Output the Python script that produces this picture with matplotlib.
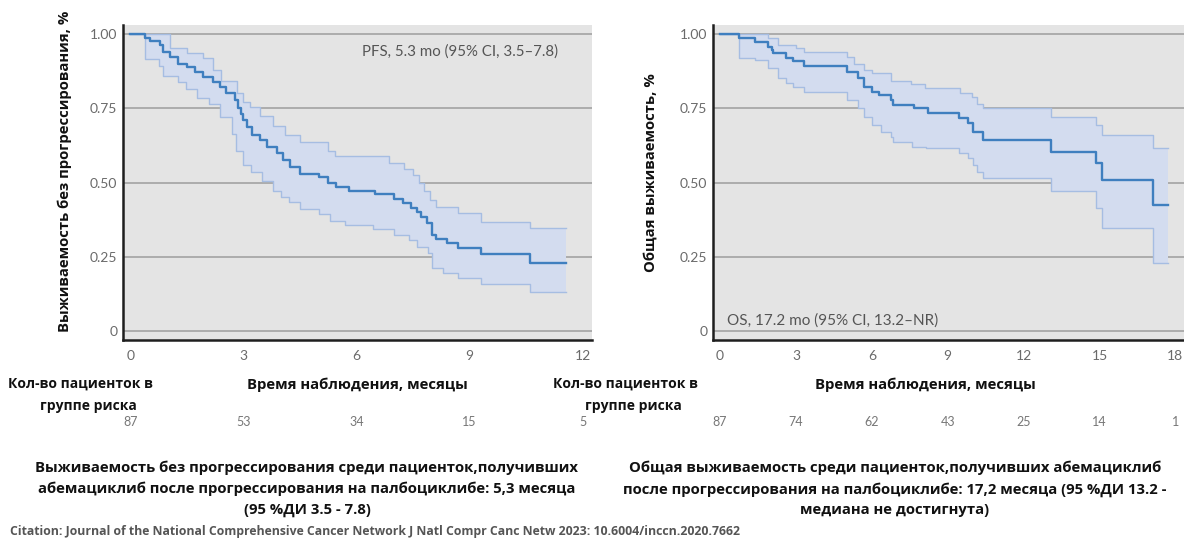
import numpy as np
import matplotlib
matplotlib.use("Agg")
import matplotlib.pyplot as plt

plt.rcParams['font.family'] = ['Open Sans', 'DejaVu Sans']

# PFS (left panel), Kaplan-Meier estimate and 95% CI
pfs_t = [0, 0.40, 0.53, 0.80, 0.88, 1.06, 1.27, 1.50, 1.73, 1.94, 2.20, 2.39, 2.55, 2.79, 2.87,
         2.95, 3.00, 3.10, 3.24, 3.45, 3.63, 3.90, 4.06, 4.25, 4.50, 5.00, 5.25, 5.45, 5.80, 6.50,
         7.00, 7.25, 7.45, 7.60, 7.72, 7.88, 8.00, 8.10, 8.40, 8.70, 9.30, 10.60, 11.55]
pfs_s = [1.0, 0.987, 0.975, 0.963, 0.94, 0.923, 0.90, 0.89, 0.872, 0.855, 0.838, 0.82, 0.80, 0.778, 0.75,
         0.73, 0.71, 0.687, 0.66, 0.643, 0.62, 0.60, 0.576, 0.552, 0.53, 0.52, 0.50, 0.485, 0.47, 0.46,
         0.445, 0.43, 0.415, 0.40, 0.385, 0.365, 0.325, 0.31, 0.295, 0.28, 0.26, 0.23, 0.23]
pfs_up_t = [0, 1.06, 1.50, 1.94, 2.20, 2.40, 2.84, 3.00, 3.19, 3.45, 3.80, 4.10, 4.50, 5.24, 5.44,
            6.87, 7.27, 7.50, 7.65, 7.80, 7.95, 8.10, 8.70, 9.30, 10.60, 11.55]
pfs_up = [1.0, 0.953, 0.936, 0.92, 0.88, 0.84, 0.80, 0.77, 0.754, 0.725, 0.69, 0.66, 0.635, 0.605, 0.59,
          0.565, 0.545, 0.525, 0.50, 0.47, 0.44, 0.418, 0.397, 0.368, 0.346, 0.346]
pfs_lo_t = [0, 0.40, 0.76, 0.86, 1.27, 1.47, 1.78, 2.09, 2.39, 2.70, 2.80, 3.00, 3.20, 3.50, 3.80,
            4.00, 4.20, 4.50, 5.00, 5.30, 5.70, 6.45, 7.00, 7.40, 7.60, 7.90, 8.00, 8.30, 8.70, 9.30,
            10.60, 11.55]
pfs_lo = [1.0, 0.916, 0.893, 0.86, 0.837, 0.815, 0.786, 0.764, 0.72, 0.663, 0.607, 0.56, 0.534, 0.506, 0.472,
          0.45, 0.433, 0.41, 0.393, 0.372, 0.357, 0.342, 0.323, 0.306, 0.283, 0.262, 0.212, 0.195, 0.178, 0.16,
          0.13, 0.13]

# OS (right panel)
os_t = [0, 0.75, 1.38, 1.90, 2.05, 2.10, 2.60, 2.90, 3.30, 5.00, 5.45, 5.70, 6.00, 6.30, 6.75,
        6.85, 7.65, 8.20, 9.45, 9.80, 10.00, 10.40, 13.10, 14.85, 15.10, 17.10, 17.70]
os_s = [1.0, 0.985, 0.974, 0.955, 0.945, 0.936, 0.92, 0.91, 0.892, 0.873, 0.852, 0.823, 0.806, 0.795, 0.778,
        0.76, 0.75, 0.733, 0.717, 0.70, 0.67, 0.643, 0.604, 0.565, 0.508, 0.424, 0.424]
os_up_t = [0, 1.90, 2.30, 3.00, 3.30, 5.00, 5.30, 5.70, 6.00, 6.75, 7.55, 8.10, 9.50, 9.95, 10.15,
           10.40, 13.10, 14.85, 15.10, 17.10, 17.70]
os_up = [1.0, 0.985, 0.963, 0.952, 0.94, 0.924, 0.90, 0.88, 0.868, 0.84, 0.83, 0.818, 0.80, 0.787, 0.765,
         0.75, 0.72, 0.694, 0.66, 0.615, 0.615]
os_lo_t = [0, 0.75, 1.38, 1.90, 2.30, 2.60, 2.90, 3.30, 5.00, 5.45, 5.70, 6.00, 6.35, 6.75, 6.85,
           7.60, 8.15, 9.45, 9.80, 10.00, 10.15, 10.40, 13.10, 14.85, 15.10, 17.10, 17.70]
os_lo = [1.0, 0.918, 0.912, 0.885, 0.852, 0.835, 0.823, 0.806, 0.778, 0.75, 0.72, 0.694, 0.67, 0.654, 0.637,
         0.62, 0.615, 0.60, 0.582, 0.56, 0.536, 0.514, 0.47, 0.414, 0.347, 0.229, 0.229]

pfs_xticks = [0, 3, 6, 9, 12]
pfs_risk = ['87', '53', '34', '15', '5']
os_xticks = [0, 3, 6, 9, 12, 15, 18]
os_risk = ['87', '74', '62', '43', '25', '14', '1']
yticks = [0, 0.25, 0.5, 0.75, 1.0]
ytick_labels = ['0', '0.25', '0.50', '0.75', '1.00']

W, H = 1184, 539
line_c = '#3f7fbf'
band_c = '#d3dcef'
edge_c = '#a6bde2'
tick_c = '#6a6a6a'


def fx(x):
    return x / W


def fy(y):
    return 1 - y / H


def step_at(t, v, grid):
    idx = np.searchsorted(t, grid, side='right') - 1
    return np.asarray(v)[idx]


def km_panel(ax, t, s, tu, u, tl, l, xticks, xlim):
    grid = np.union1d(tu, tl)
    ax.fill_between(grid, step_at(tl, l, grid), step_at(tu, u, grid), step='post',
                    color=band_c, lw=0, zorder=2)
    ax.step(tu, u, where='post', color=edge_c, lw=1.0, zorder=3)
    ax.step(tl, l, where='post', color=edge_c, lw=1.0, zorder=3)
    ax.step(t, s, where='post', color=line_c, lw=1.7, zorder=4)
    ax.set_facecolor('#e4e4e4')
    for yv in yticks:
        ax.axhline(yv, color='#a3a3a3', lw=1.2, zorder=1)
    ax.set_xlim(*xlim)
    ax.set_ylim(-0.03, 1.03)
    ax.set_xticks(xticks)
    ax.set_yticks(yticks)
    ax.set_yticklabels(ytick_labels)
    ax.tick_params(length=0, colors=tick_c, labelsize=10)
    ax.tick_params(axis='x', pad=7)
    ax.tick_params(axis='y', pad=4)
    for lab in ax.get_xticklabels() + ax.get_yticklabels():
        lab.set_family(['Lato', 'DejaVu Sans'])
    for sp in ['top', 'right']:
        ax.spines[sp].set_visible(False)
    for sp in ['left', 'bottom']:
        ax.spines[sp].set_linewidth(1.8)
        ax.spines[sp].set_color('#1e1e1e')


fig = plt.figure(figsize=(W / 100, H / 100), dpi=100)

ax1 = fig.add_axes([fx(123), fy(340), fx(592 - 123), (340 - 25) / H])
km_panel(ax1, pfs_t, pfs_s, pfs_up_t, pfs_up, pfs_lo_t, pfs_lo, pfs_xticks, (-0.19, 12.25))
ax1.text(6.15, 0.94, 'PFS, 5.3 mo (95% CI, 3.5\u20137.8)', color='#555555', fontsize=10.8,
         family=['Lato', 'DejaVu Sans'], va='center')

ax2 = fig.add_axes([fx(713), fy(340), fx(1184 - 713), (340 - 25) / H])
km_panel(ax2, os_t, os_s, os_up_t, os_up, os_lo_t, os_lo, os_xticks, (-0.28, 18.34))
ax2.text(0.28, 0.037, 'OS, 17.2 mo (95% CI, 13.2\u2013NR)', color='#555555', fontsize=11,
         family=['Lato', 'DejaVu Sans'], va='center')

bold = dict(fontweight='bold', color='#111111')

fig.text(fx(65), fy(171), 'Выживаемость без прогрессирования, %', rotation=90,
         ha='center', va='center', fontsize=10.7, **bold)
fig.text(fx(651), fy(173), 'Общая выживаемость, %', rotation=90,
         ha='center', va='center', fontsize=10.7, **bold)

# number at risk rows
for x0, xlab in [(8, 357), (553, 925)]:
    fig.text(fx(x0), fy(384), 'Кол-во пациенток в', ha='left', va='center', fontsize=10, **bold)
    fig.text(fx(x0 + 32), fy(406), 'группе риска', ha='left', va='center', fontsize=10, **bold)
    fig.text(fx(xlab), fy(385), 'Время наблюдения, месяцы', ha='center', va='center',
             fontsize=10.7, **bold)

for ax, ticks, risk in [(ax1, pfs_xticks, pfs_risk), (ax2, os_xticks, os_risk)]:
    for xv, r in zip(ticks, risk):
        ax.annotate(r, xy=(xv, 0), xycoords=('data', 'axes fraction'),
                    xytext=(0, -(422 - 340)), textcoords='offset pixels',
                    ha='center', va='center', color='#777777', fontsize=9,
                    family=['Lato', 'DejaVu Sans'])

fig.text(fx(307), fy(489),
         'Выживаемость без прогрессирования среди пациенток,получивших\n'
         'абемациклиб после прогрессирования на палбоциклибе: 5,3 месяца\n'
         '(95 %ДИ 3.5 - 7.8)',
         ha='center', va='center', fontsize=10.7, linespacing=1.6, **bold)
fig.text(fx(895), fy(489),
         'Общая выживаемость среди пациенток,получивших абемациклиб\n'
         'после прогрессирования на палбоциклибе: 17,2 месяца (95 %ДИ 13.2 -\n'
         'медиана не достигнута)',
         ha='center', va='center', fontsize=10.7, linespacing=1.6, **bold)

fig.text(fx(10), fy(532),
         'Citation: Journal of the National Comprehensive Cancer Network J Natl Compr Canc Netw 2023: '
         '10.6004/inccn.2020.7662',
         ha='left', va='center', fontsize=8.8, fontweight='bold', color='#555555')

fig.savefig('out.png', dpi=100)
